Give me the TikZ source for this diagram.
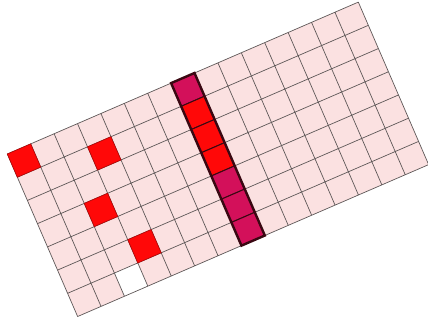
\documentclass[tikz,border=0pt]{standalone}
\definecolor{cellpink}{HTML}{FBE1E1}
\definecolor{gridgray}{HTML}{5E5858}
\definecolor{hitred}{HTML}{FF0808}
\definecolor{colmag}{HTML}{D3105A}
\definecolor{colframe}{HTML}{3A0812}
\begin{document}
\begin{tikzpicture}[x=1pt, y=1pt,
    hit/.style={fill=hitred, draw=hitred!70!black, line width=0.6pt},
    colcell/.style={draw=colframe, line width=1pt}]
  \useasboundingbox (0,0) rectangle (428,324);

  \begin{scope}[shift={(7.3,170)}, rotate=23.4, x=25.5pt, y=25.3pt]
    % board
    \fill[cellpink] (0,0) rectangle (15,-7);
    \fill[white] (2,-6) rectangle (3,-7);
    \draw[gridgray, line width=0.7pt, step=1] (0,-7) grid (15,0);

    % marked cells
    \filldraw[hit] (0,0) rectangle (1,-1);
    \filldraw[hit] (3,-1) rectangle (4,-2);
    \filldraw[hit] (2,-3) rectangle (3,-4);
    \filldraw[hit] (3,-5) rectangle (4,-6);

    % highlighted column
    \filldraw[colcell, fill=colmag] (7,0) rectangle (8,-1);
    \filldraw[colcell, fill=hitred] (7,-1) rectangle (8,-2);
    \filldraw[colcell, fill=hitred] (7,-2) rectangle (8,-3);
    \filldraw[colcell, fill=hitred] (7,-3) rectangle (8,-4);
    \filldraw[colcell, fill=colmag] (7,-4) rectangle (8,-5);
    \filldraw[colcell, fill=colmag] (7,-5) rectangle (8,-6);
    \filldraw[colcell, fill=colmag] (7,-6) rectangle (8,-7);
    \draw[colframe, line width=2.4pt] (7,0) rectangle (8,-7);
  \end{scope}
\end{tikzpicture}
\end{document}
